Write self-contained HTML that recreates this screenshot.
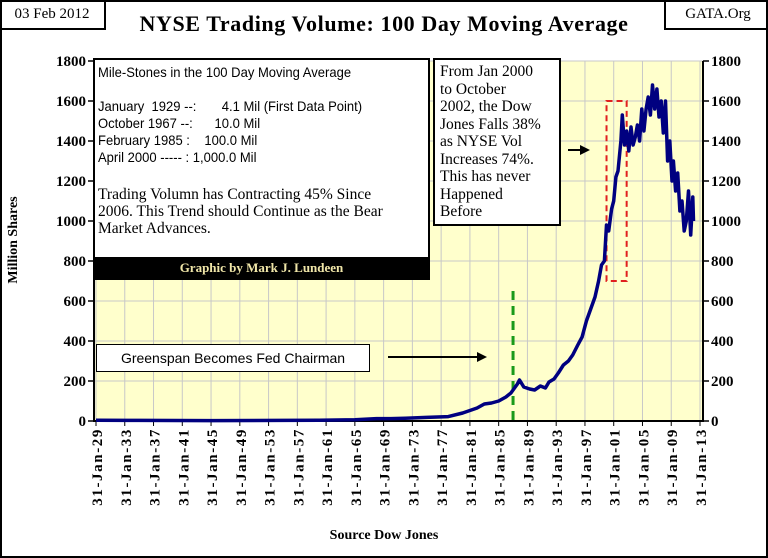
<!DOCTYPE html>
<html><head><meta charset="utf-8"><style>
body{margin:0;background:#fff;}
#wrap{position:relative;width:768px;height:558px;overflow:hidden;font-family:"Liberation Serif",serif;}
.abs{position:absolute;}
.sans{font-family:"Liberation Sans",sans-serif;}
</style></head><body>
<div id="wrap">
<svg id="chart" width="768" height="558" style="position:absolute;left:0;top:0"></svg>
<div class="abs" style="left:0;top:0;width:104px;height:28px;border:2px solid #000;border-top:0;border-left:0;font-size:15px;line-height:28px;text-align:center">03 Feb 2012</div>
<div class="abs" style="left:664px;top:0;width:104px;height:28px;border:2px solid #000;border-top:0;border-right:0;font-size:15px;line-height:28px;text-align:center">GATA.Org</div>
<div class="abs" style="left:0;top:11px;width:768px;text-align:center;font-size:22px;font-weight:bold;letter-spacing:0.6px">NYSE Trading Volume: 100 Day Moving Average</div>
<div class="abs" style="left:93px;top:58px;width:333px;height:218px;border:2px solid #000;background:#fff">
 <div class="sans" style="position:absolute;left:3px;top:4px;font-size:14px;line-height:17px;white-space:pre;transform:scaleX(0.93);transform-origin:left">Mile-Stones in the 100 Day Moving Average

January  1929 --:       4.1 Mil (First Data Point)
October 1967 --:      10.0 Mil
February 1985 :    100.0 Mil
April 2000 ----- : 1,000.0 Mil</div>
 <div style="position:absolute;left:3px;top:126px;font-size:15.5px;line-height:17px;white-space:nowrap">Trading Volumn has Contracting 45% Since<br>2006.  This Trend should Continue  as the Bear<br>Market Advances.</div>
 <div style="position:absolute;left:0;bottom:0;width:333px;height:21px;background:#000;color:#f0e6a8;font-weight:bold;font-size:13px;line-height:21px;text-align:center">Graphic by Mark J. Lundeen</div>
</div>
<div class="abs" style="left:433px;top:58px;border:2px solid #000;background:#fff;font-size:15.5px;line-height:17.5px;padding:3px 0 0 5px;box-sizing:border-box;width:128px;height:168px;white-space:nowrap">From Jan 2000<br>to October<br>2002, the Dow<br>Jones Falls 38%<br>as NYSE Vol<br>Increases 74%.<br>This has never<br>Happened<br>Before</div>
<div class="abs sans" style="left:96px;top:344px;width:272px;height:26px;border:1.5px solid #000;background:#fff;font-size:14px;line-height:26px;text-align:center">Greenspan Becomes Fed Chairman</div>
<div class="abs" style="left:15px;top:240px;transform:rotate(-90deg);transform-origin:center;width:0;height:0"><div style="position:absolute;left:-60px;top:-9px;width:120px;text-align:center;font-weight:bold;font-size:14px">Million Shares</div></div>
<div class="abs" style="left:0;top:528px;width:768px;text-align:center;font-weight:bold;font-size:14px">Source Dow Jones</div>
<div class="abs" style="left:0;top:0;width:764px;height:554px;border:2px solid #000;pointer-events:none"></div>
</div>
<script>
const yTicks=[0,200,400,600,800,1000,1200,1400,1600,1800];
const xTickYears=[1929,1933,1937,1941,1945,1949,1953,1957,1961,1965,1969,1973,1977,1981,1985,1989,1993,1997,2001,2005,2009,2013];
const years=[1929,1935,1945,1955,1960,1965,1968,1970,1972,1975,1978,1980,1982,1983,1984,1985,1986,1986.7,1987.6,1987.9,1988.5,1989.3,1990,1990.8,1991.5,1992,1992.7,1993.3,1994,1994.7,1995.3,1996,1996.6,1997.2,1997.8,1998.4,1998.9,1999.3,1999.7,2000.0,2000.3,2000.7,2001.0,2001.3,2001.6,2002.0,2002.2,2002.5,2002.8,2003.1,2003.4,2003.7,2004.0,2004.3,2004.6,2004.9,2005.2,2005.5,2005.8,2006.1,2006.4,2006.7,2007.0,2007.3,2007.6,2007.9,2008.2,2008.5,2008.8,2009.1,2009.3,2009.6,2009.9,2010.2,2010.5,2010.8,2011.1,2011.4,2011.7,2012.0,2012.1];
const volumes=[4,3,2,3,4,6,12,12,14,18,22,40,65,85,90,100,120,140,185,205,170,160,155,175,165,195,210,240,280,300,330,380,420,500,560,620,700,780,800,980,950,1060,1100,1220,1250,1400,1530,1380,1450,1350,1470,1380,1420,1480,1400,1560,1450,1560,1620,1530,1680,1560,1660,1520,1600,1440,1600,1300,1400,1200,1300,1150,1240,1050,1100,950,1000,1150,930,1120,1000];
const milestoneYear=1987;
const boxYears=[2000,2002.8];
const boxVals=[700,1600];

const svg=document.getElementById('chart');
const NS='http://www.w3.org/2000/svg';
const L=94,R=703,T=61,B=421;
const x=y=> L+2+(y-1929)/(2013-1929)*(R-L-5);
const yv=v=> B-(v/1800)*(B-T);
function mk(t,a){const e=document.createElementNS(NS,t);for(const k in a)e.setAttribute(k,a[k]);svg.appendChild(e);return e;}
const bg=mk('rect',{x:L,y:T,width:R-L,height:B-T,fill:'#ffffcc'});


yTicks.forEach(v=>{
 const g=mk('line',{x1:L,x2:R,y1:yv(v),y2:yv(v),stroke:'#c8c8c8','stroke-width':1});
 
 
 [[L-5,'end',L-6],[R+5,'start',R]].forEach(([tx,anc,tk])=>{
  const t=mk('text',{x:tx+(anc==='end'?-3:3),y:yv(v)+5,'text-anchor':anc,'font-size':15,'font-weight':'bold','font-family':'Liberation Serif, serif'});
  t.textContent=v;
  
  
  const tl=mk('line',{x1:tk,x2:tk+6,y1:yv(v),y2:yv(v),stroke:'#000','stroke-width':1.5});
  
  
 });
});
xTickYears.forEach(yr=>{
 const g=mk('line',{x1:x(yr),x2:x(yr),y1:T,y2:B,stroke:'#c8c8c8','stroke-width':1});
 
 
 const tk=mk('line',{x1:x(yr),x2:x(yr),y1:B,y2:B+5,stroke:'#000','stroke-width':1});
 
 
 const t=mk('text',{x:0,y:0,transform:`translate(${x(yr)+6},${B+7}) rotate(-90)`,'text-anchor':'end','font-size':15,'letter-spacing':'1.6','font-weight':'bold','font-family':'Liberation Serif, serif'});
 t.textContent='31-Jan-'+String(yr%100).padStart(2,'0');
 
 
});
const ax=mk('path',{d:`M${L},${T}V${B}H${R}V${T}`,fill:'none',stroke:'#000','stroke-width':2});


const gl=mk('line',{x1:x(milestoneYear),x2:x(milestoneYear),y1:yv(650),y2:B,stroke:'#1a9a1a','stroke-width':3,'stroke-dasharray':'9,6'});


const rb=mk('rect',{x:x(boxYears[0]),y:yv(boxVals[1]),width:x(boxYears[1])-x(boxYears[0]),height:yv(boxVals[0])-yv(boxVals[1]),fill:'none',stroke:'#e02020','stroke-width':2,'stroke-dasharray':'6,4'});


const pts=years.map((yr,i)=>x(yr).toFixed(1)+','+yv(volumes[i]).toFixed(1)).join(' ');
const ln=mk('polyline',{points:pts,fill:'none',stroke:'#000080','stroke-width':3.5,'stroke-linejoin':'round'});


[[388,487,357],[568,590,150]].forEach(([a,b,yy])=>{
 const l=mk('line',{x1:a,x2:b-8,y1:yy,y2:yy,stroke:'#000','stroke-width':2});
 
 
 const h=mk('path',{d:`M${b},${yy}L${b-10},${yy-5}L${b-10},${yy+5}Z`,fill:'#000'});
 
 
});
</script>
</body></html>
